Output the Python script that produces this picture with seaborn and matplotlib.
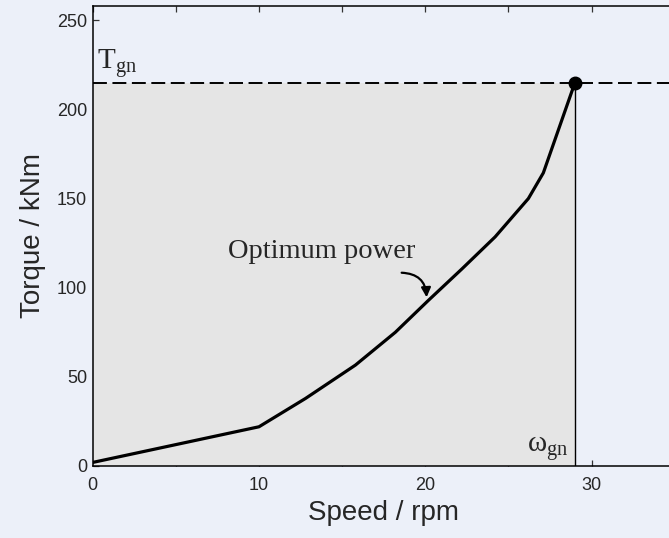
import numpy as np
import pandas as pd
import seaborn as sns
import matplotlib.pyplot as plt
from matplotlib.ticker import MultipleLocator

# values
speed = [0, 10, 12.8, 15.8, 18.2, 20.2, 22.2, 24.2, 26.2, 27.1, 29]
torque = [2, 22, 37.9, 56.6, 75.0, 93.0, 110.5, 128.5, 150.0, 164.4, 215]
rated_speed = 29
rated_torque = 215
x_ticks = [0, 10, 20, 30]
y_ticks = [0, 50, 100, 150, 200, 250]

bg = '#ecf0f9'
sns.set_style('ticks')
plt.rcParams['font.family'] = ['Liberation Sans', 'DejaVu Sans']
plt.rcParams['mathtext.fontset'] = 'custom'
plt.rcParams['mathtext.rm'] = 'Liberation Serif'
plt.rcParams['mathtext.it'] = 'Liberation Serif:italic'

fig = plt.figure(figsize=(6.69, 5.38), dpi=100, facecolor=bg)
ax = fig.add_axes([92.7 / 669, 72 / 538, 582 / 669, 460 / 538])
ax.set_facecolor(bg)

# shaded operating region
ax.fill_between([0, rated_speed], 0, rated_torque, color='#e5e5e5', lw=0, zorder=1)
ax.plot([rated_speed, rated_speed], [0, rated_torque], color='black', lw=1.0, zorder=2)

lw_dash = 1.4
ax.axhline(rated_torque, color='black', lw=lw_dash,
           ls=(0, (10 / lw_dash, 4 / lw_dash)), zorder=2)

df = pd.DataFrame({'speed': speed, 'torque': torque})
sns.lineplot(data=df, x='speed', y='torque', sort=False, color='black',
             lw=2.3, ax=ax, zorder=3)
ax.plot([rated_speed], [rated_torque], 'o', color='black', ms=9, zorder=4)

ax.text(0.26, 223, r'$\mathrm{T}_{\mathrm{gn}}$', fontsize=21, va='baseline', ha='left')
ax.text(28.6, 7.9, r'$\mathrm{ω}_{\mathrm{gn}}$', fontsize=21, va='baseline', ha='right')

ax.text(19.38, 116.7, 'Optimum power', fontsize=20.5, family='Liberation Serif',
        ha='right', va='baseline')
ax.annotate('', xy=(20.08, 94.6), xytext=(18.58, 108.4),
            arrowprops=dict(arrowstyle='-|>', color='black', lw=1.6,
                            mutation_scale=14, shrinkA=0, shrinkB=0,
                            connectionstyle='arc3,rad=-0.45'))

ax.set_xlim(0, 35)
ax.set_ylim(0, 258)
ax.set_xticks(x_ticks)
ax.set_yticks(y_ticks)
ax.xaxis.set_minor_locator(MultipleLocator(5))
ax.tick_params(axis='both', which='both', direction='in', top=True, right=False,
               length=4.5, width=0.9, color='#333333', labelsize=13)
ax.tick_params(axis='x', pad=8)
ax.tick_params(axis='y', pad=4)
for s in ax.spines.values():
    s.set_linewidth(1.1)
    s.set_color('black')

ax.set_xlabel('Speed / rpm', fontsize=20, labelpad=4)
ax.set_ylabel('Torque / kNm', fontsize=20, labelpad=8)

fig.savefig('out.png', dpi=100, facecolor=bg)
